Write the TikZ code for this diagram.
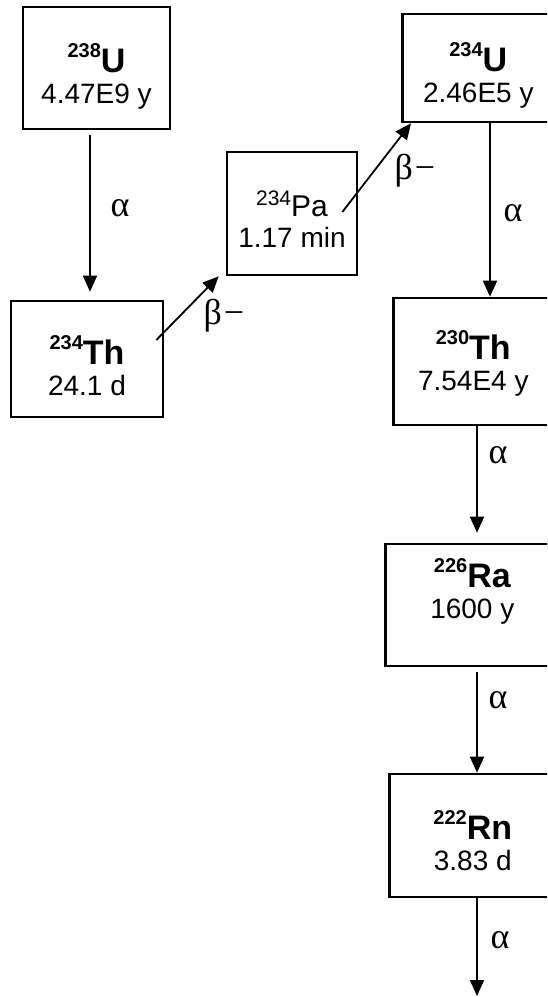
\documentclass[tikz,border=0pt]{standalone}
\usepackage{fontspec}
\setmainfont{Liberation Sans}
\newfontfamily\grk{Liberation Serif}
\usetikzlibrary{arrows.meta}

% mass number + element symbol, bold
\newcommand{\iso}[2]{\raisebox{15pt}{\fontsize{20}{20}\selectfont\bfseries #1}{\fontsize{34}{31}\selectfont\bfseries #2}}

\begin{document}
\begin{tikzpicture}[x=1pt, y=-1pt, font=\fontsize{28}{31}\selectfont,
  nucl/.style={draw, line width=2.6pt, align=center, inner sep=0pt, text depth=6pt},
  dec/.style={-{Triangle[length=16pt, width=14pt]}, line width=1.8pt},
  modo/.style={font=\grk\fontsize{36}{36}\selectfont, inner sep=0pt}]
  \path[use as bounding box] (0,0) rectangle (547,997);
  \clip (0,0) rectangle (547,997);
  % left branch
  \node[nucl, minimum width=147pt, minimum height=122pt, text height=76pt] (u238) at (96.5,68) {\iso{238}{U}\\4.47E9 y};
  \node[nucl, minimum width=152pt, minimum height=116pt, text height=78pt] (th234) at (87,359) {\iso{234}{Th}\\24.1 d};
  \node[nucl, minimum width=130pt, minimum height=123pt, text height=73pt] (pa234) at (292,213.5) {\raisebox{11pt}{\fontsize{21}{21}\selectfont 234}{\fontsize{30}{31}\selectfont Pa}\\1.17 min};
  % right column, cut off at the page edge
  \node[nucl, anchor=west, minimum width=152pt, minimum height=108pt, text height=74pt] (u234) at (401,68) {\iso{234}{U}\\2.46E5 y};
  \node[nucl, anchor=west, minimum width=160pt, minimum height=127pt, text height=64pt] (th230) at (392,361.5) {\iso{230}{Th}\\7.54E4 y};
  \node[nucl, anchor=west, minimum width=174pt, minimum height=122pt, text height=32pt] (ra226) at (384,605) {\iso{226}{Ra}\\1600 y};
  \node[nucl, anchor=west, minimum width=167pt, minimum height=123pt, text height=76pt] (rn222) at (388,835.5) {\iso{222}{Rn}\\3.83 d};
  \coordinate (fin) at (477,996);
  % decays
  \draw[dec] ([xshift=-6.5pt, yshift=-5pt]u238.south) -- ([xshift=3pt, yshift=8pt]th234.north);
  \node[modo] (a1) at (120,208) {α};
  \draw[dec] ([xshift=-8pt, yshift=19pt]th234.east) -- ([xshift=-7pt]pa234.south west);
  \node[modo] (b1) at (224,316) {β\kern2pt−};
  \draw[dec] ([xshift=-16pt, yshift=1.5pt]pa234.east) -- ([xshift=10pt]u234.south west);
  \node[modo] (b2) at (415,171) {β\kern2pt−};
  \draw[dec] ([xshift=89pt]u234.south west) -- ([xshift=98pt]th230.north west);
  \node[modo] (a2) at (513,213) {α};
  \draw[dec] ([xshift=85pt]th230.south west) -- ([xshift=93pt, yshift=10pt]ra226.north west);
  \node[modo] (a3) at (498,455) {α};
  \draw[dec] ([xshift=93pt, yshift=-5pt]ra226.south west) -- ([xshift=89pt]rn222.north west);
  \node[modo] (a4) at (498,700) {α};
  \draw[dec] ([xshift=89pt]rn222.south west) -- (fin);
  \node[modo] (a5) at (500,940) {α};
\end{tikzpicture}
\end{document}
